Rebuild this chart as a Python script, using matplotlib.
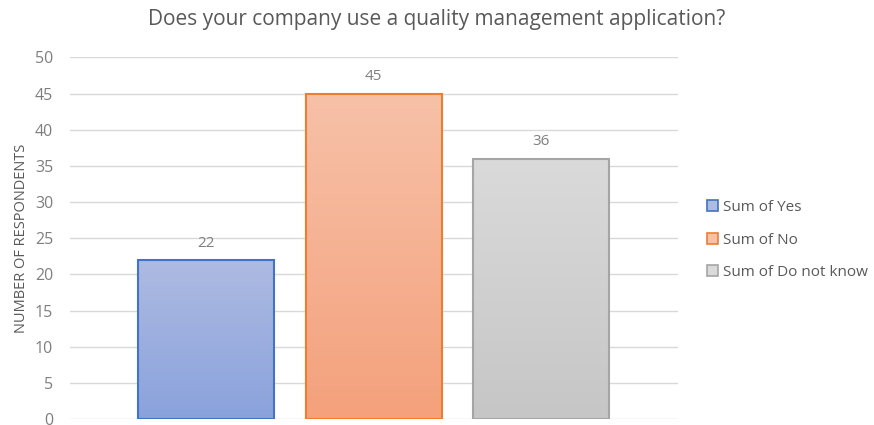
import numpy as np
import matplotlib
matplotlib.use("Agg")
import matplotlib.pyplot as plt
from matplotlib.patches import Patch

series = ["Sum of Yes", "Sum of No", "Sum of Do not know"]
values = [22, 45, 36]
edge_colors = ["#4472c4", "#ed7d31", "#a5a5a5"]
top_colors = ["#aebbe2", "#f7c1a8", "#dadada"]
bottom_colors = ["#8aa2dc", "#f4a17c", "#c6c6c6"]
yticks = [0, 5, 10, 15, 20, 25, 30, 35, 40, 45, 50]

plt.rcParams["font.family"] = ["Open Sans", "DejaVu Sans"]

fig = plt.figure(figsize=(8.74, 4.25), dpi=100)
ax = fig.add_axes([0.080, 0.0141, 0.696, 0.851])

width = 0.812
xs = np.arange(len(values))
bars = ax.bar(xs, values, width=width, color="none", edgecolor=edge_colors,
              linewidth=1.5, zorder=3)

# vertical gradient fill, clipped to each bar
for b, top, bot in zip(bars, top_colors, bottom_colors):
    c0 = np.array(matplotlib.colors.to_rgb(top))
    c1 = np.array(matplotlib.colors.to_rgb(bot))
    t = np.linspace(0, 1, 100)[:, None]
    grad = (c0 * (1 - t) + c1 * t)[:, None, :]
    x0, y0 = b.get_x(), b.get_y()
    im = ax.imshow(grad, extent=[x0, x0 + b.get_width(), y0, y0 + b.get_height()],
                   aspect="auto", origin="upper", zorder=2)
    im.set_clip_path(b)

for x, v in zip(xs, values):
    ax.text(x, v + 2.3, str(v), ha="center", va="center", fontsize=11, color="#7f7f7f")

ax.set_xlim(-0.812, 2.818)
ax.set_ylim(0, 50)
ax.set_yticks(yticks)
ax.set_xticks([])
ax.grid(axis="y", color="#d9d9d9", linewidth=1, zorder=0)
for s in ax.spines.values():
    s.set_visible(False)
ax.tick_params(axis="y", length=0, labelsize=11.5, labelcolor="#7f7f7f", pad=12)
ax.set_ylabel("NUMBER OF RESPONDENTS", fontsize=10.5, color="#595959", labelpad=4)

fig.suptitle("Does your company use a quality management application?",
             x=0.5, y=0.978, fontsize=15, color="#595959")

handles = [Patch(facecolor=tc, edgecolor=ec, linewidth=1.2)
           for tc, ec in zip(top_colors, edge_colors)]
fig.legend(handles, series, loc="center left", bbox_to_anchor=(0.805, 0.435),
           frameon=False, fontsize=11, labelcolor="#595959",
           handlelength=0.75, handleheight=0.75, handletextpad=0.3, labelspacing=1.15,
           borderaxespad=0, borderpad=0.2)

fig.savefig("out.png", dpi=100)
